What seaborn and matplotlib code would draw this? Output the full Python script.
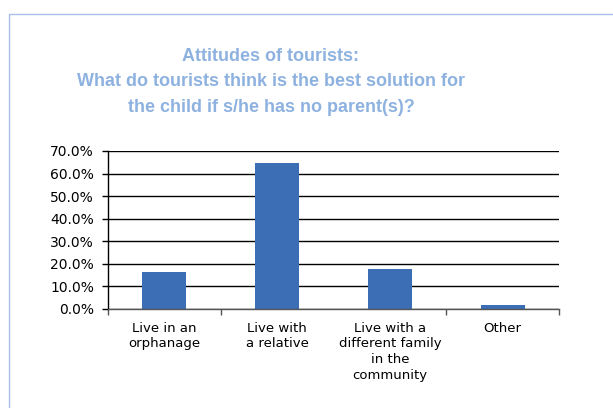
import matplotlib
matplotlib.use("Agg")
import matplotlib.pyplot as plt
import seaborn as sns
from matplotlib.patches import Rectangle
from matplotlib.ticker import FixedLocator, FuncFormatter

sns.set_style("white")
plt.rcParams["font.family"] = ["DejaVu Sans"]
plt.rcParams["text.color"] = "black"
plt.rcParams["xtick.color"] = "black"
plt.rcParams["ytick.color"] = "black"

# Dados do gráfico
categorias = [
    "Live in an\norphanage",
    "Live with\na relative",
    "Live with a\ndifferent family\nin the\ncommunity",
    "Other",
]
percentuais = [16.3, 64.6, 17.7, 1.7]
y_ticks = [0, 10, 20, 30, 40, 50, 60, 70]
titulo = ("Attitudes of tourists:\n"
          "What do tourists think is the best solution for\n"
          "the child if s/he has no parent(s)?")

fig = plt.figure(figsize=(6.13, 4.08), dpi=100)
ax = fig.add_axes([108 / 613, 1 - 309 / 408, (559 - 108) / 613, (309 - 151) / 408])

sns.barplot(x=categorias, y=percentuais, color="#3C6EB6", width=0.39,
            saturation=1, linewidth=0, ax=ax)

ax.set_ylim(0, 70)
ax.set_xlim(-0.5, 3.5)
ax.yaxis.set_major_locator(FixedLocator(y_ticks))
ax.yaxis.set_major_formatter(FuncFormatter(lambda v, p: f"{v:.1f}%"))
ax.grid(axis="y", color="black", linewidth=1)
ax.set_axisbelow(True)

for lado in ["top", "right"]:
    ax.spines[lado].set_visible(False)
ax.spines["left"].set_color("black")
ax.spines["bottom"].set_color("#555555")
ax.spines["left"].set_linewidth(1)
ax.spines["bottom"].set_linewidth(1)

ax.tick_params(axis="y", which="major", left=True, length=4, width=1,
               color="black", pad=6, labelsize=10, labelcolor="black")
ax.tick_params(axis="x", which="major", length=0, pad=9, labelsize=9.5,
               labelcolor="black")
ax.set_xticks([-0.5, 0.5, 2.5, 3.5], minor=True)
ax.tick_params(axis="x", which="minor", bottom=True, length=4, width=1,
               color="#555555")
for lbl in ax.get_xticklabels():
    lbl.set_linespacing(1.28)
    lbl.set_verticalalignment("top")
ax.set_xlabel("")
ax.set_ylabel("")

# Moldura azul clara
fig.patches.append(Rectangle((9 / 613, -0.1), 1.2, 1 - 14 / 408 + 0.1,
                             transform=fig.transFigure, fill=False,
                             edgecolor="#A9BFE6", linewidth=1))

fig.text(271 / 613, 1 - 48 / 408, titulo, ha="center", va="top",
         fontsize=13, fontweight="bold", color="#8EB2E0",
         family=["Liberation Sans", "DejaVu Sans"], linespacing=1.64)

fig.savefig("out.png", dpi=100)
